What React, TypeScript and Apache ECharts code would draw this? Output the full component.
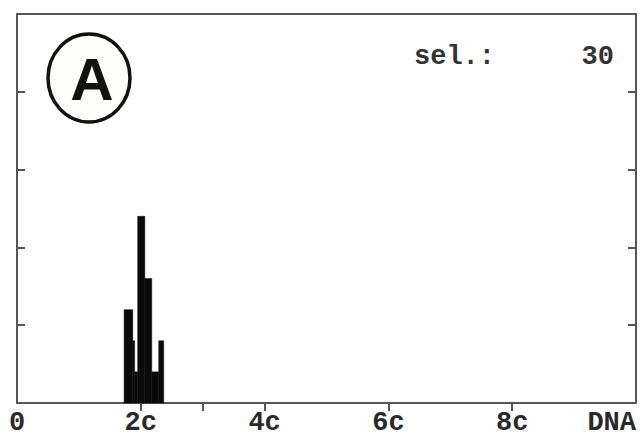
import React, { useEffect, useRef } from "react";
import * as echarts from "echarts";

// Histogram bins (DNA content in c units) and cell counts
const binEdges = [1.73, 1.87, 1.9, 1.95, 2.065, 2.177, 2.29, 2.37];
const counts = [6, 4, 2, 12, 8, 2, 4];
const xLabelValues = [0, 2, 4, 6, 8, 10];
const xTickValues = [2, 3, 4, 6, 8];
const selLabel = "sel.:";
const selValue = "30";
const panelLetter = "A";

const FONT = "'Liberation Mono', 'DejaVu Sans Mono', monospace";

export default function App() {
  const ref = useRef<HTMLDivElement>(null);
  useEffect(() => {
    if (!ref.current) return;
    const chart = echarts.init(ref.current, null, { renderer: "svg" });
    const data = counts.map((c, i) => [binEdges[i], binEdges[i + 1], c]);
    const frameColor = "#555";
    chart.setOption({
      animation: false,
      backgroundColor: "#fff",
      grid: { left: 17, right: 4, top: 14, bottom: 35 },
      xAxis: [
        {
          type: "value",
          min: 0,
          max: 10,
          position: "bottom",
          splitLine: { show: false },
          axisLine: { show: true, onZero: false, lineStyle: { color: frameColor, width: 2 } },
          axisTick: {
            show: true,
            inside: false,
            length: 8,
            customValues: xTickValues,
            lineStyle: { color: frameColor, width: 2 },
          },
          axisLabel: {
            customValues: xLabelValues,
            margin: 6,
            fontFamily: FONT,
            fontWeight: "bold",
            fontSize: 27,
            color: "#2a2a2a",
            alignMaxLabel: "right",
            formatter: (v: number) => (v === 0 ? "0" : v === 10 ? "DNA" : `${v}c`),
          },
        },
        {
          type: "value",
          min: 0,
          max: 10,
          position: "top",
          splitLine: { show: false },
          axisLine: { show: true, onZero: false, lineStyle: { color: frameColor, width: 2 } },
          axisTick: { show: false },
          axisLabel: { show: false },
        },
      ],
      yAxis: [
        {
          type: "value",
          min: 0,
          max: 25,
          interval: 5,
          position: "left",
          splitLine: { show: false },
          axisLine: { show: true, onZero: false, lineStyle: { color: frameColor, width: 2 } },
          axisTick: { show: true, inside: true, length: 8, lineStyle: { color: frameColor, width: 2 } },
          axisLabel: { show: false },
        },
        {
          type: "value",
          min: 0,
          max: 25,
          interval: 5,
          position: "right",
          splitLine: { show: false },
          axisLine: { show: true, onZero: false, lineStyle: { color: frameColor, width: 2 } },
          axisTick: { show: true, inside: true, length: 8, lineStyle: { color: frameColor, width: 2 } },
          axisLabel: { show: false },
        },
      ],
      series: [
        {
          type: "custom",
          xAxisIndex: 0,
          yAxisIndex: 0,
          data,
          renderItem: (params: any, api: any) => {
            const x0 = api.value(0);
            const x1 = api.value(1);
            const y = api.value(2);
            const p0 = api.coord([x0, y]);
            const p1 = api.coord([x1, 0]);
            return {
              type: "rect",
              shape: { x: p0[0], y: p0[1], width: p1[0] - p0[0], height: p1[1] - p0[1] },
              style: { fill: "#0a0a0a", stroke: "#0a0a0a", lineWidth: 0.5 },
            };
          },
        },
      ],
      graphic: [
        {
          type: "ellipse",
          shape: { cx: 89, cy: 78, rx: 41, ry: 44 },
          style: { fill: "#fdfdfb", stroke: "#111", lineWidth: 3.5 },
        },
        {
          type: "text",
          x: 92,
          y: 79,
          style: {
            text: panelLetter,
            font: "bold 60px 'Liberation Sans', Arial, sans-serif",
            fill: "#111",
            align: "center",
            verticalAlign: "middle",
          },
        },
        {
          type: "text",
          x: 414,
          y: 57,
          style: {
            text: selLabel,
            font: `bold 27px ${FONT}`,
            fill: "#333",
            align: "left",
            verticalAlign: "middle",
          },
        },
        {
          type: "text",
          x: 614,
          y: 57,
          style: {
            text: selValue,
            font: `bold 27px ${FONT}`,
            fill: "#333",
            align: "right",
            verticalAlign: "middle",
          },
        },
      ],
    });
    return () => chart.dispose();
  }, []);
  return (
    <div
      ref={ref}
      style={{ position: "fixed", left: 0, top: 0, width: 640, height: 438, background: "#fff" }}
    />
  );
}
